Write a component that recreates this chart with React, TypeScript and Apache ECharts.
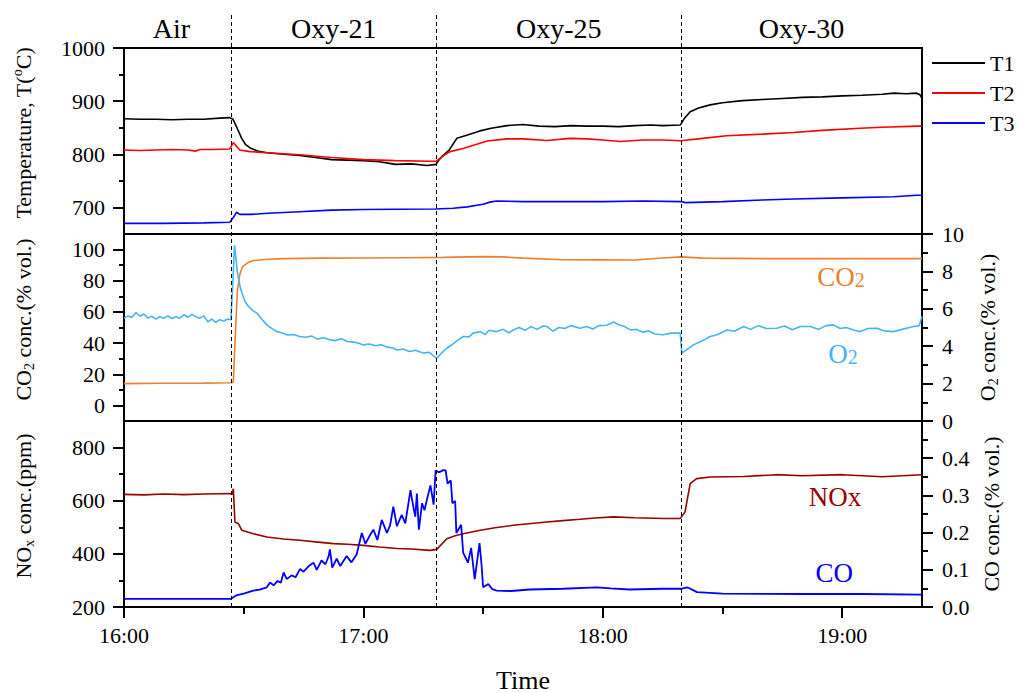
import React, { useEffect, useRef } from 'react';
import * as echarts from 'echarts';

const FONT = 'Liberation Serif';

// time in minutes after 16:00
const phaseNames = ['Air', 'Oxy-21', 'Oxy-25', 'Oxy-30'];
const phaseBounds = [0, 26.8, 78.3, 139.6, 200];
const switchTimes = [26.8, 78.3, 139.6];

const xTicks = [0, 60, 120, 180];
const xMinorTicks = [30, 90, 150];
const tTicks = [700, 800, 900, 1000];
const tMinorTicks = [750, 850, 950];
const co2Ticks = [0, 20, 40, 60, 80, 100];
const co2MinorTicks = [10, 30, 50, 70, 90];
const o2Ticks = [0, 2, 4, 6, 8, 10];
const o2MinorTicks = [1, 3, 5, 7, 9];
const noxTicks = [200, 400, 600, 800];
const noxMinorTicks = [300, 500, 700];
const coTicks = [0, 0.1, 0.2, 0.3, 0.4];
const coMinorTicks = [0.05, 0.15, 0.25, 0.35, 0.45];

const T1: [number, number][] = [
  [0, 867], [4, 866], [8, 866], [12, 865], [16, 866], [20, 866], [24, 868], [26.5, 869], [27.3, 866], [28.3, 850],
  [29.5, 830], [30.5, 818], [31.6, 812], [33.5, 806], [35.8, 803], [40, 800], [44, 798], [48, 794], [52, 790],
  [56, 789], [60, 788], [64, 786], [68, 781], [72, 782], [76, 779], [78.2, 781], [79, 790], [80, 798], [81.5, 808],
  [83.4, 830], [85.9, 836], [89.2, 844], [92, 849], [96, 854], [100, 856], [104, 853], [108, 852], [112, 854],
  [116, 853], [120, 853], [124, 852], [128, 854], [132, 855], [135, 854], [139.4, 855], [140.5, 868], [141.9, 880],
  [144, 887], [146.9, 893], [150, 897], [155, 901], [160, 903], [165, 905], [170, 907], [175, 908], [180, 910],
  [185, 911], [190, 913], [193, 915], [196, 914], [198.7, 915], [199.5, 912], [200, 905],
];
const T2: [number, number][] = [
  [0, 808], [4, 807], [8, 808], [12, 809], [16, 808], [18, 806], [19, 809], [22, 809], [26.5, 810], [27.4, 822],
  [29, 808], [31.6, 805], [36, 803], [44, 799], [52, 794], [60, 790], [68, 788], [77, 787], [78.3, 787], [80, 797],
  [81.7, 805], [85, 811], [88, 818], [91, 825], [96, 829], [100, 829], [106, 826], [111.8, 830], [116, 829],
  [120, 827], [124.4, 824], [130, 827], [135, 827], [139.6, 825.5], [145, 830], [151, 835], [160, 838],
  [167.8, 841], [175, 845], [184.5, 849], [190, 851], [198.7, 853], [200, 853],
];
const T3: [number, number][] = [
  [0, 670], [10, 670], [20, 671], [26.5, 672], [27.5, 682], [28.2, 691], [29, 687], [32, 687], [36, 689], [44, 692],
  [52, 695], [60, 696], [68.4, 696.5], [78, 697], [82.5, 698.5], [86, 701], [90, 706], [91.7, 710], [93.4, 712],
  [100, 711], [110, 711], [120, 711], [130, 712], [139.6, 711], [140.7, 709], [150, 711], [160, 714], [167.8, 716],
  [180, 718], [192.9, 720], [198.7, 723], [200, 723],
];
const CO2: [number, number][] = [
  [0, 14], [10, 14.2], [20, 14.3], [26.9, 14.5], [27.4, 15], [27.9, 45], [28.4, 73], [29, 84], [29.7, 89], [31, 91.5],
  [32.4, 93], [36, 93.8], [40, 94.2], [50, 94.5], [60, 94.6], [70, 94.8], [80, 95], [90, 95.5], [95, 95.3],
  [100, 94.5], [110, 93.5], [120, 93.4], [128, 93.3], [135, 94.6], [139.6, 95.3], [145, 94.5], [160, 94.2],
  [180, 94.2], [200, 94.2],
];
const O2: [number, number][] = [
  [0, 5.5], [1, 5.62], [2, 5.55], [3, 5.8], [4, 5.6], [5, 5.72], [6, 5.5], [7, 5.6], [8, 5.45], [9, 5.58], [10, 5.5],
  [11, 5.62], [12, 5.48], [13, 5.58], [14, 5.5], [15, 5.68], [16, 5.55], [17, 5.7], [18, 5.58], [19, 5.5], [20, 5.62],
  [21, 5.3], [22, 5.45], [23, 5.28], [24, 5.42], [25, 5.35], [26, 5.45], [26.8, 5.4], [27.3, 7.5], [27.7, 9.4],
  [28.5, 7.8], [29.3, 7.0], [30.3, 6.4], [31.3, 6.1], [32.3, 5.9], [33.3, 5.77], [34.5, 5.45], [35.8, 5.14],
  [37, 4.95], [38.3, 4.78], [39.5, 4.72], [41, 4.6], [42.5, 4.62], [44, 4.52], [45.5, 4.48], [47, 4.55],
  [48.5, 4.38], [50, 4.45], [51.6, 4.34], [53, 4.3], [54.5, 4.4], [56, 4.25], [57.5, 4.22], [59, 4.15], [60, 4.07],
  [61.5, 4.12], [63, 4.02], [64.5, 4.08], [66, 3.95], [67.5, 3.9], [68.4, 3.8], [70, 3.85], [71.5, 3.72],
  [73, 3.78], [75, 3.63], [76.5, 3.68], [77.5, 3.5], [78.4, 3.36], [79, 3.5], [80, 3.72], [80.9, 3.89], [82, 4.05],
  [83.5, 4.3], [85, 4.52], [86.5, 4.5], [87.5, 4.7], [89.3, 4.78], [90.5, 4.62], [91.5, 4.85], [93.4, 4.78],
  [95, 4.9], [96.5, 4.72], [97.6, 4.87], [99, 5.0], [100.5, 4.85], [102, 5.05], [103.5, 4.9], [105, 5.08],
  [106, 5.05], [107.5, 4.8], [109, 5.0], [110.5, 4.95], [112, 5.1], [114.3, 4.96], [116, 5.05], [117.5, 4.92],
  [119, 5.1], [121, 5.12], [122.7, 5.29], [124, 5.15], [125.5, 5.05], [126.9, 4.87], [128.5, 4.9], [130, 4.75],
  [131.5, 4.82], [133, 4.65], [135.2, 4.61], [137, 4.7], [139.4, 4.7], [139.8, 3.63], [141, 3.8], [142.7, 4.07],
  [144, 4.2], [145.5, 4.35], [146.9, 4.52], [148.5, 4.6], [150, 4.75], [151.1, 4.87], [153, 4.8], [155.3, 5.05],
  [157, 4.9], [159, 5.1], [161, 4.95], [163.6, 4.96], [165.5, 5.08], [167.5, 4.88], [169.5, 5.05], [172, 5.05],
  [174, 4.9], [176, 5.1], [177.8, 5.14], [179.5, 4.95], [181, 5.0], [183, 4.85], [184.5, 4.78], [186.5, 4.95],
  [188.7, 4.96], [190.5, 4.82], [192.9, 4.78], [195, 4.9], [197.9, 5.05], [199.3, 5.1], [200, 5.59],
];
const NOX: [number, number][] = [
  [0, 624], [5, 622], [10, 625], [15, 623], [20, 625], [26.5, 627], [27.1, 624], [27.4, 645], [27.8, 520],
  [28.7, 513], [29.5, 489], [32.4, 476], [35.8, 463.5], [40, 456], [44.1, 451], [48, 445], [52.5, 438.6],
  [56, 436], [60, 432], [64, 426], [68.4, 420], [72, 418], [76.7, 413], [78.4, 417], [80.9, 457], [83, 468],
  [85, 476], [89.3, 489], [93, 498], [97.6, 507.5], [102, 514], [106, 520], [110, 525], [114.3, 530], [118, 535],
  [122.7, 539], [128, 536], [135.2, 533], [139.4, 533], [140.6, 557], [141.9, 664], [143.5, 683], [146.9, 689],
  [155.3, 691], [163.6, 698], [170, 694], [180, 698], [190, 690], [200, 698],
];
const CO: [number, number][] = [
  [0, 0.022], [10, 0.022], [20, 0.022], [26.8, 0.022], [28.1, 0.031], [30, 0.036], [32.4, 0.044], [34, 0.047],
  [35.8, 0.053], [36.6, 0.066], [37.5, 0.058], [38.5, 0.07], [39.3, 0.065], [40, 0.093], [40.8, 0.075], [42, 0.085],
  [43, 0.08], [44.1, 0.102], [45, 0.095], [46.3, 0.11], [47.5, 0.119], [48.3, 0.1], [49.5, 0.125], [50.5, 0.115],
  [51.3, 0.137], [51.6, 0.155], [52.2, 0.106], [53.3, 0.13], [54.2, 0.11], [55.8, 0.137], [57, 0.12],
  [58.3, 0.141], [59.6, 0.199], [60.5, 0.17], [61.5, 0.19], [62.5, 0.208], [63.5, 0.18], [64.6, 0.234],
  [65.9, 0.199], [66.7, 0.22], [67.5, 0.27], [68.4, 0.217], [69.6, 0.248], [70.5, 0.225], [71.8, 0.314],
  [72.5, 0.27], [73, 0.243], [73.4, 0.305], [73.9, 0.208], [74.7, 0.279], [75.3, 0.26], [76, 0.292],
  [76.8, 0.327], [77.6, 0.275], [78.1, 0.367], [79, 0.362], [80, 0.368], [80.6, 0.367], [81.1, 0.332],
  [81.9, 0.34], [82.3, 0.279], [83, 0.285], [83.3, 0.199], [84.5, 0.221], [85, 0.146], [86.2, 0.119], [87, 0.159],
  [87.9, 0.075], [89.1, 0.172], [89.6, 0.115], [90, 0.053], [91.3, 0.062], [92.3, 0.048], [93.4, 0.044],
  [97, 0.043], [101.7, 0.047], [110, 0.049], [118.4, 0.053], [122, 0.05], [126.7, 0.047], [135, 0.049],
  [139.6, 0.049], [141.2, 0.053], [143.6, 0.04], [150, 0.036], [170, 0.035], [185, 0.035], [200, 0.033],
];

// annotation anchors (data coordinates)
const co2LabelAt = [179.7, 82.6];
const o2LabelAt = [180.2, 3.6];
const noxLabelAt = [178.2, 613];
const coLabelAt = [178, 0.092];

const C_CO2 = '#ee7f2d';
const C_O2 = '#45b4f6';
const C_NOX = '#990000';
const C_CO = '#0000ff';

const tickLine = { color: '#000', width: 2 };

function yAx(gridIndex: number, min: number, max: number, position: string, ticks: number[], len: number,
  labels: boolean, fmt: (v: number) => string = (v) => String(v), extra: any = {}) {
  return {
    type: 'value', gridIndex, min, max, position,
    axisLine: { show: false, onZero: false },
    splitLine: { show: false },
    axisTick: { show: true, length: len, lineStyle: tickLine, customValues: ticks },
    axisLabel: labels
      ? {
        show: true, customValues: ticks, margin: position === 'left' ? 19 : 20, formatter: fmt,
        color: '#000', fontFamily: FONT, fontSize: 22,
      }
      : { show: false },
    ...extra,
  };
}

function nameRich(color = '#000') {
  return {
    a: { fontSize: 22, lineHeight: 26, fontFamily: FONT, color },
    sub: { fontSize: 14, lineHeight: 14, verticalAlign: 'bottom', fontFamily: FONT, color },
    sup: { fontSize: 14, lineHeight: 14, verticalAlign: 'top', fontFamily: FONT, color },
  };
}

function leftName(name: string) {
  return {
    name, nameLocation: 'middle', nameRotate: 90, nameGap: 88,
    nameTextStyle: { rich: nameRich(), padding: [0, 0, 0, 16] },
  };
}

function rightName(name: string) {
  return {
    name, nameLocation: 'middle', nameRotate: 90, nameGap: 52,
    nameTextStyle: { rich: nameRich() },
  };
}

function plotLabel(coord: number[], text: string, color: string) {
  return {
    silent: true,
    symbol: 'circle',
    symbolSize: 0,
    label: {
      show: true, position: 'inside', formatter: text, color, fontFamily: FONT,
      rich: {
        a: { fontSize: 27, lineHeight: 27, verticalAlign: 'bottom', fontFamily: FONT, color },
        b: { fontSize: 20, lineHeight: 20, verticalAlign: 'bottom', fontFamily: FONT, color },
      },
    },
    data: [{ coord }],
  };
}

const grids = [
  { left: 124, width: 798, top: 48, height: 186 },
  { left: 124, width: 798, top: 234, height: 187 },
  { left: 124, width: 798, top: 421, height: 186 },
].map((g) => ({
  ...g, show: true, borderColor: '#000', borderWidth: 2, backgroundColor: 'transparent',
  containLabel: false, outerBoundsMode: 'none',
}));

const option: any = {
  animation: false,
  backgroundColor: '#fff',
  textStyle: { fontFamily: FONT, color: '#000' },
  grid: [...grids, { left: 124, width: 798, top: 13, height: 594, show: false, outerBoundsMode: 'none' }],
  legend: {
    data: ['T1', 'T2', 'T3'], orient: 'vertical', left: 927, top: 47, icon: 'rect',
    itemWidth: 53, itemHeight: 2, itemGap: 8,
    textStyle: { color: '#000', fontFamily: FONT, fontSize: 22 }, selectedMode: false,
  },
  xAxis: [
    { type: 'value', gridIndex: 0, min: 0, max: 200, show: false },
    { type: 'value', gridIndex: 1, min: 0, max: 200, show: false },
    {
      type: 'value', gridIndex: 2, min: 0, max: 200, position: 'bottom',
      axisLine: { show: false, onZero: false }, splitLine: { show: false },
      axisTick: { show: true, length: 11, lineStyle: tickLine, customValues: xTicks },
      axisLabel: {
        show: true, customValues: xTicks, margin: 17, color: '#000', fontFamily: FONT, fontSize: 22,
        formatter: (v: number) => `${16 + Math.round(v / 60)}:00`,
      },
      name: 'Time', nameLocation: 'middle', nameGap: 60,
      nameTextStyle: { fontSize: 26, color: '#000', fontFamily: FONT },
    },
    {
      type: 'value', gridIndex: 2, min: 0, max: 200, position: 'bottom',
      axisLine: { show: false, onZero: false }, splitLine: { show: false },
      axisTick: { show: true, length: 7, lineStyle: tickLine, customValues: xMinorTicks },
      axisLabel: { show: false },
    },
    { type: 'value', gridIndex: 3, min: 0, max: 200, show: false },
  ],
  yAxis: [
    yAx(0, 650, 1000, 'left', tTicks, 11, true, undefined, leftName('{a|Temperature, T(}{sup|o}{a|C)}')),
    yAx(0, 650, 1000, 'left', tMinorTicks, 5, false),
    yAx(1, -10, 110, 'left', co2Ticks, 11, true, undefined, leftName('{a|CO}{sub|2}{a| conc.(% vol.)}')),
    yAx(1, -10, 110, 'left', co2MinorTicks, 5, false),
    yAx(1, 0, 10, 'right', o2Ticks, 11, true, undefined, rightName('{a|O}{sub|2}{a| conc.(% vol.)}')),
    yAx(1, 0, 10, 'right', o2MinorTicks, 6, false),
    yAx(2, 200, 900, 'left', noxTicks, 11, true, undefined, leftName('{a|NO}{sub|x}{a| conc.(ppm)}')),
    yAx(2, 200, 900, 'left', noxMinorTicks, 5, false),
    yAx(2, 0, 0.5, 'right', coTicks, 11, true, (v: number) => v.toFixed(1), rightName('{a|CO conc.(% vol.)}')),
    yAx(2, 0, 0.5, 'right', coMinorTicks, 6, false),
    { type: 'value', gridIndex: 3, min: 0, max: 1, show: false },
  ],
  series: [
    {
      name: 'T1', type: 'line', xAxisIndex: 0, yAxisIndex: 0, data: T1, symbol: 'none',
      lineStyle: { color: '#000', width: 1.6 }, itemStyle: { color: '#000' },
      markArea: {
        silent: true,
        itemStyle: { color: 'rgba(0,0,0,0)' },
        label: { show: true, position: 'top', distance: 6, color: '#000', fontFamily: FONT, fontSize: 28 },
        data: phaseNames.map((n, i) => [
          { name: n, xAxis: phaseBounds[i], label: i === 0 ? { offset: [-6, 0] } : undefined },
          { xAxis: phaseBounds[i + 1] },
        ]),
      },
    },
    {
      name: 'T2', type: 'line', xAxisIndex: 0, yAxisIndex: 0, data: T2, symbol: 'none',
      lineStyle: { color: '#ff0000', width: 1.6 }, itemStyle: { color: '#ff0000' },
    },
    {
      name: 'T3', type: 'line', xAxisIndex: 0, yAxisIndex: 0, data: T3, symbol: 'none',
      lineStyle: { color: '#0000ff', width: 1.6 }, itemStyle: { color: '#0000ff' },
    },
    {
      name: 'CO2', type: 'line', xAxisIndex: 1, yAxisIndex: 2, data: CO2, symbol: 'none',
      lineStyle: { color: C_CO2, width: 1.6 }, itemStyle: { color: C_CO2 },
      markPoint: plotLabel(co2LabelAt, '{a|CO}{b|2}', C_CO2),
    },
    {
      name: 'O2', type: 'line', xAxisIndex: 1, yAxisIndex: 4, data: O2, symbol: 'none',
      lineStyle: { color: C_O2, width: 1.6 }, itemStyle: { color: C_O2 },
      markPoint: plotLabel(o2LabelAt, '{a|O}{b|2}', C_O2),
    },
    {
      name: 'NOx', type: 'line', xAxisIndex: 2, yAxisIndex: 6, data: NOX, symbol: 'none',
      lineStyle: { color: C_NOX, width: 1.6 }, itemStyle: { color: C_NOX },
      markPoint: plotLabel(noxLabelAt, '{a|NOx}', C_NOX),
    },
    {
      name: 'CO', type: 'line', xAxisIndex: 2, yAxisIndex: 8, data: CO, symbol: 'none',
      lineStyle: { color: C_CO, width: 1.8 }, itemStyle: { color: C_CO },
      markPoint: plotLabel(coLabelAt, '{a|CO}', C_CO),
    },
    {
      name: 'switch', type: 'line', xAxisIndex: 4, yAxisIndex: 10, data: [], symbol: 'none',
      markLine: {
        silent: true, symbol: ['none', 'none'], label: { show: false },
        lineStyle: { color: '#000', type: [4, 3], width: 1 },
        data: switchTimes.map((t) => ({ xAxis: t })),
      },
    },
  ],
};

export default function App() {
  const ref = useRef<HTMLDivElement>(null);
  useEffect(() => {
    const chart = echarts.init(ref.current!, null, { renderer: 'svg' });
    chart.setOption(option);
    return () => chart.dispose();
  }, []);
  return <div ref={ref} style={{ position: 'fixed', left: 0, top: 0, width: 1020, height: 693 }} />;
}
